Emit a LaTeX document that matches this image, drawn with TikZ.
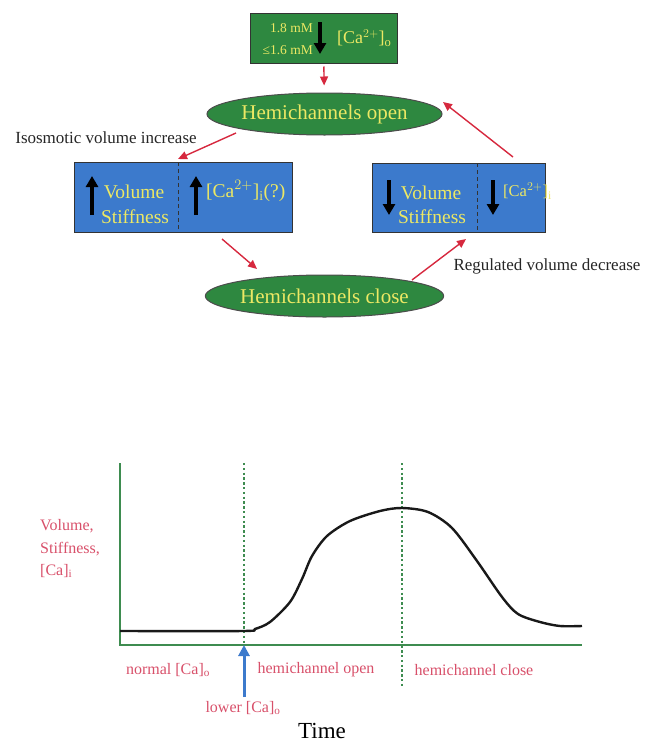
\documentclass[tikz,border=0pt]{standalone}
\usepackage{fontspec}
\setmainfont{Liberation Serif}
\usetikzlibrary{shapes.geometric,arrows.meta}
\definecolor{boxgreen}{RGB}{46,136,64}
\definecolor{boxblue}{RGB}{60,122,204}
\definecolor{txtyellow}{RGB}{236,232,100}
\definecolor{arrred}{RGB}{214,40,62}
\definecolor{lblpink}{RGB}{216,80,106}
\definecolor{axgreen}{RGB}{62,140,80}
\begin{document}
\begin{tikzpicture}[x=1pt,y=-1pt,
  greenbox/.style={draw=black!80,line width=1pt,fill=boxgreen,inner sep=0},
  bluebox/.style={draw=black!80,line width=1pt,fill=boxblue,inner sep=0},
  oval/.style={ellipse,draw=black!70,line width=1pt,fill=boxgreen,minimum width=235,minimum height=42,inner sep=0,
    text=txtyellow,font=\fontsize{21}{24}\selectfont},
  ytxt/.style={text=txtyellow,inner sep=0,font=\fontsize{19.5}{22}\selectfont},
  blkarrow/.style={line width=3.5pt,-{Triangle[width=12pt,length=11pt]}},
  redarrow/.style={arrred,line width=1.4pt,-{Triangle[width=8pt,length=9pt]}},
  note/.style={inner sep=0,font=\fontsize{17}{20}\selectfont,text=black!85},
  pinklbl/.style={inner sep=0,text=lblpink,font=\fontsize{16}{19}\selectfont},
  dotline/.style={axgreen,line width=2.6pt,dash pattern=on 2.4pt off 2.4pt},
  divider/.style={black!80,line width=1pt,dash pattern=on 4pt off 3pt}]
\useasboundingbox (0,0) rectangle (645,744);

% top box
\node[greenbox,minimum width=147,minimum height=50] (top) at (323.5,38) {};
\node[inner sep=0,anchor=east,text=txtyellow,font=\fontsize{13.5}{15}\selectfont] (c18) at (313,28) {1.8 mM};
\node[inner sep=0,anchor=east,text=txtyellow,font=\fontsize{13.5}{15}\selectfont] (c16) at (313,50) {≤1.6 mM};
\coordinate (ta1) at (320,22);
\coordinate (ta2) at (320,54);
\draw[blkarrow,black] (ta1) -- (ta2);
\node[inner sep=0,anchor=west,text=txtyellow,font=\fontsize{18}{20}\selectfont] (cao) at (337,38) {[Ca$^{2+}$]$_\mathrm{o}$};

% ellipses
\node[oval] (open) at (324.5,114) {Hemichannels open};
\node[oval] (close) at (324.5,296) {Hemichannels close};

% left box
\node[bluebox,minimum width=218,minimum height=70] (lbox) at (183,197) {};
\coordinate (ld1) at (178,162);
\coordinate (ld2) at (178,232);
\draw[divider] (ld1) -- (ld2);
\coordinate (la1) at (92,215);
\coordinate (la2) at (92,176);
\draw[blkarrow] (la1) -- (la2);
\node[ytxt] (lvol) at (134,192) {Volume};
\node[ytxt] (lstf) at (135,217) {Stiffness};
\coordinate (la3) at (196,215);
\coordinate (la4) at (196,176);
\draw[blkarrow] (la3) -- (la4);
\node[ytxt,anchor=west] (lca) at (206,191) {[Ca$^{2+}$]$_\mathrm{i}$(?)};

% right box
\node[bluebox,minimum width=173,minimum height=69] (rbox) at (458.5,197.5) {};
\coordinate (rd1) at (477,163);
\coordinate (rd2) at (477,232);
\draw[divider] (rd1) -- (rd2);
\coordinate (ra1) at (389,180);
\coordinate (ra2) at (389,215);
\draw[blkarrow] (ra1) -- (ra2);
\node[ytxt] (rvol) at (431,193) {Volume};
\node[ytxt] (rstf) at (432,217) {Stiffness};
\coordinate (ra3) at (493,180);
\coordinate (ra4) at (493,215);
\draw[blkarrow] (ra3) -- (ra4);
\node[ytxt,anchor=west,font=\fontsize{16.5}{19}\selectfont] (rca) at (503,191) {[Ca$^{2+}$]$_\mathrm{i}$};

% red connectors
\draw[redarrow,shorten <=3pt,shorten >=7pt] (top) -- (open);
\coordinate (a2s) at (236,133);
\coordinate (a2e) at (178,159);
\draw[redarrow] (a2s) -- (a2e);
\coordinate (a3s) at (513,157);
\coordinate (a3e) at (443,102);
\draw[redarrow] (a3s) -- (a3e);
\coordinate (a4s) at (222,239);
\coordinate (a4e) at (257,269);
\draw[redarrow] (a4s) -- (a4e);
\coordinate (a5s) at (412,280);
\coordinate (a5e) at (466,239);
\draw[redarrow] (a5s) -- (a5e);

\node[note] (iso) at (106,138) {Isosmotic volume increase};
\node[note] (rvd) at (547,266) {Regulated volume decrease};

% graph
\coordinate (yt) at (120,463);
\coordinate (org) at (120,645);
\coordinate (xe) at (582,645);
\draw[dotline] (244,463) coordinate (d1t) -- (244,645) coordinate (d1b);
\draw[dotline] (402,463) coordinate (d2t) -- (402,686) coordinate (d2b);
\draw[axgreen,line width=2pt] (yt) -- (org) -- (xe);
\draw[black!90,line width=2.4pt,line join=round] plot[smooth,tension=0.5] coordinates {
 (120,631) (243,631) (255,629) (270,622) (290,602) (302,579) (312,556) (327,536)
 (350,521) (380,511) (402,508) (428,512) (452,528) (477,561) (502,597) (518,614)
 (540,622) (560,626) (582,626)};

\node[pinklbl,anchor=west] (yl1) at (40,526) {Volume,};
\node[pinklbl,anchor=west] (yl2) at (40,549) {Stiffness,};
\node[pinklbl,anchor=west] (yl3) at (40,571) {[Ca]$_\mathrm{i}$};

\coordinate (ba1) at (244,697);
\draw[boxblue,line width=3pt,-{Triangle[width=11pt,length=11pt]}] (ba1) -- (d1b);

\node[pinklbl] (nca) at (168,670) {normal [Ca]$_\mathrm{o}$};
\node[pinklbl] (hop) at (316,670) {hemichannel open};
\node[pinklbl] (hcl) at (474,670) {hemichannel close};
\node[pinklbl] (lca2) at (243,708) {lower [Ca]$_\mathrm{o}$};
\node[inner sep=0,font=\fontsize{23}{26}\selectfont] (time) at (322,731) {Time};
\end{tikzpicture}
\end{document}
